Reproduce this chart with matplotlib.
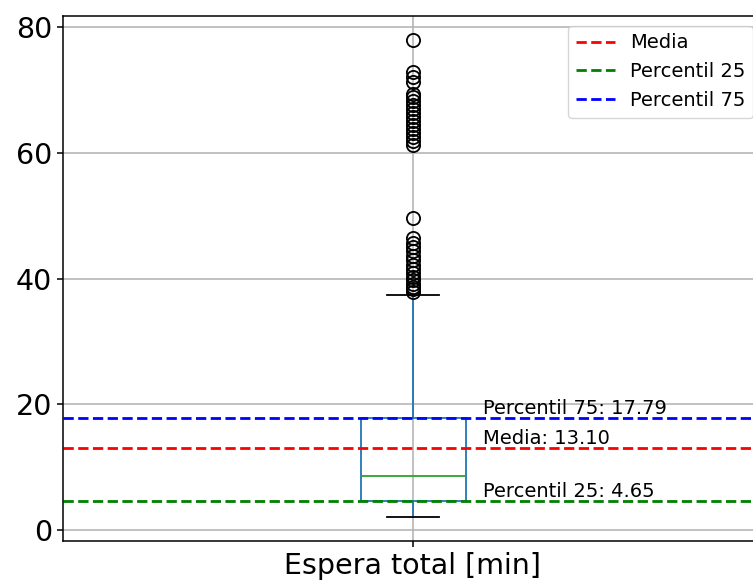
import matplotlib
matplotlib.use("Agg")
import matplotlib.pyplot as plt

# Resumen de la distribución
etiqueta = "Espera total [min]"
mediana = 8.6
percentil_25 = 4.65
percentil_75 = 17.79
media = 13.10
bigote_inf = 2.07
bigote_sup = 37.4
atipicos = [77.9, 72.9, 72.0, 71.3, 69.4, 68.8, 68.2, 67.6, 67.0, 66.3, 65.7,
            65.0, 64.4, 63.8, 63.1, 62.5, 61.8, 61.3,
            49.6, 46.4, 45.7, 45.0, 44.3, 43.6, 42.9, 42.2, 41.5, 40.9, 40.3,
            39.7, 39.2, 38.7, 38.3, 37.9]

fig = plt.figure(figsize=(7.53, 5.83), dpi=100)
ax = fig.add_axes([63 / 753, 42 / 583, 700 / 753, 525 / 583])

stats = [dict(med=mediana, q1=percentil_25, q3=percentil_75,
              whislo=bigote_inf, whishi=bigote_sup, fliers=atipicos, label=etiqueta)]
ax.bxp(stats, showfliers=True,
       boxprops=dict(color="C0", linewidth=1.3), whiskerprops=dict(color="C0", linewidth=1.3),
       medianprops=dict(color="C2", linewidth=1.3), capprops=dict(color="k", linewidth=1.3),
       flierprops=dict(marker="o", markerfacecolor="none", markeredgecolor="k",
                       markersize=9.5, markeredgewidth=1.3))
ax.grid(True, linewidth=1.1)
ax.set_axisbelow(True)

ax.axhline(media, color="red", linestyle="--", linewidth=2, label="Media")
ax.axhline(percentil_25, color="green", linestyle="--", linewidth=2, label="Percentil 25")
ax.axhline(percentil_75, color="blue", linestyle="--", linewidth=2, label="Percentil 75")

ax.text(1.1, media, f"Media: {media:.2f}", va="bottom", fontsize=14)
ax.text(1.1, percentil_25, f"Percentil 25: {percentil_25:.2f}", va="bottom", fontsize=14)
ax.text(1.1, percentil_75, f"Percentil 75: {percentil_75:.2f}", va="bottom", fontsize=14)

ax.set_xlim(0.5, 1.5)
ax.set_ylim(-1.75, 81.75)
ax.set_yticks([0, 20, 40, 60, 80])
ax.tick_params(axis="both", labelsize=20.5, width=1.1, length=4.5)
for s in ax.spines.values():
    s.set_linewidth(1.1)
ax.legend(loc="upper right", fontsize=14)

plt.savefig("out.png", dpi=100)
